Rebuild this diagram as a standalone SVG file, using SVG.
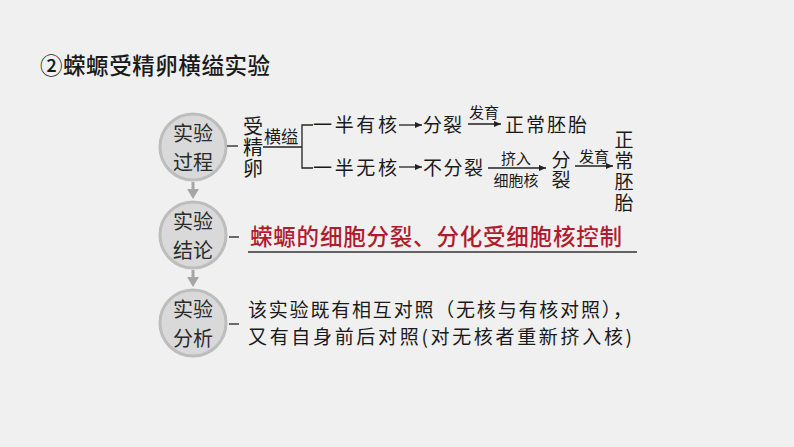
<svg xmlns="http://www.w3.org/2000/svg" width="794" height="447" viewBox="0 0 794 447">
<defs>
<style>
.t{font-family:"Noto Sans CJK SC","Noto Sans",sans-serif;fill:#1a1a1a;}
.v{font-family:"Noto Sans CJK SC",sans-serif;fill:#1a1a1a;writing-mode:vertical-rl;}
.c{fill:#d9d9d9;stroke:#bdbdbd;stroke-width:3;}
.ct{font-family:"Noto Sans CJK SC",sans-serif;font-size:20px;fill:#2a2a2a;text-anchor:middle;}
.ln{stroke:#222;stroke-width:1.3;fill:none;}
.ga{stroke:#a6a6a6;stroke-width:3;fill:none;}
</style>
<marker id="ah" markerWidth="8" markerHeight="8" refX="7" refY="4" orient="auto" markerUnits="userSpaceOnUse">
<path d="M0,1 L7,4 L0,7 Z" fill="#222"/>
</marker>
</defs>
<rect width="794" height="447" fill="#f0f0f0"/>
<text class="t" x="40" y="74" font-size="22.5" font-weight="500" textLength="230">②蝾螈受精卵横缢实验</text>

<g id="node-process">
<circle class="c" cx="193" cy="147" r="33"/>
<text class="ct" x="193" y="141">实验</text>
<text class="ct" x="193" y="170">过程</text>
</g>
<g id="node-conclusion">
<circle class="c" cx="193" cy="235" r="33"/>
<text class="ct" x="193" y="229">实验</text>
<text class="ct" x="193" y="258">结论</text>
</g>
<g id="node-analysis">
<circle class="c" cx="193" cy="323" r="33"/>
<text class="ct" x="193" y="317">实验</text>
<text class="ct" x="193" y="346">分析</text>
</g>

<g id="connectors">
<line x1="193" y1="182" x2="193" y2="190" class="ga"/>
<path d="M187,189 L199,189 L193,199 Z" fill="#a6a6a6"/>
<line x1="193" y1="270" x2="193" y2="278" class="ga"/>
<path d="M187,277 L199,277 L193,287 Z" fill="#a6a6a6"/>
<line x1="227" y1="146" x2="238" y2="146" class="ln"/>
<line x1="229" y1="237" x2="239" y2="237" class="ln"/>
<line x1="229" y1="324" x2="239" y2="324" class="ln"/>
<line x1="263" y1="147" x2="302" y2="147" class="ln"/>
<path d="M313,125 L302,125 L302,168 L313,168" class="ln"/>
<line x1="399" y1="125" x2="422" y2="125" class="ln" marker-end="url(#ah)"/>
<line x1="468" y1="124" x2="501" y2="124" class="ln" marker-end="url(#ah)"/>
<line x1="399" y1="167" x2="422" y2="167" class="ln" marker-end="url(#ah)"/>
<line x1="488" y1="168" x2="546" y2="168" class="ln" marker-end="url(#ah)"/>
<line x1="575" y1="166" x2="613" y2="166" class="ln" marker-end="url(#ah)"/>
<line x1="248" y1="252" x2="637" y2="252" stroke="#333" stroke-width="1.3"/>
</g>

<g id="node-egg">
<text class="v" font-size="20" x="253" y="116" letter-spacing="1">受精卵</text>
</g>
<g id="label-hengyi">
<text class="t" font-size="17" x="281" y="143" text-anchor="middle">横缢</text>
</g>
<g id="row1">
<text class="t" font-size="19" x="313" y="132" textLength="84">一半有核</text>
<text class="t" font-size="19" x="423" y="132" textLength="39">分裂</text>
<text class="t" font-size="15" x="484" y="118" text-anchor="middle">发育</text>
<text class="t" font-size="19" x="505" y="132" textLength="82">正常胚胎</text>
</g>
<g id="row2">
<text class="t" font-size="19" x="313" y="175" textLength="84">一半无核</text>
<text class="t" font-size="19" x="423" y="175" textLength="60">不分裂</text>
<text class="t" font-size="15" x="516" y="164" text-anchor="middle">挤入</text>
<text class="t" font-size="15" x="516" y="186" text-anchor="middle">细胞核</text>
<text class="v" font-size="19" x="561" y="150.5" letter-spacing="1">分裂</text>
<text class="t" font-size="15" x="594" y="162" text-anchor="middle">发育</text>
<text class="v" font-size="19" x="624" y="130.5" letter-spacing="2">正常胚胎</text>
</g>
<g id="conclusion-text">
<text x="250" y="245" font-family="Noto Sans CJK SC,sans-serif" font-size="22.5" font-weight="500" fill="#b01c2e" textLength="372">蝾螈的细胞分裂、分化受细胞核控制</text>
</g>
<g id="analysis-text">
<text class="t" font-size="19" x="248" y="317" textLength="384">该实验既有相互对照（无核与有核对照），</text>
<text class="t" font-size="19" x="248" y="344" textLength="384">又有自身前后对照(对无核者重新挤入核)</text>
</g>
</svg>
